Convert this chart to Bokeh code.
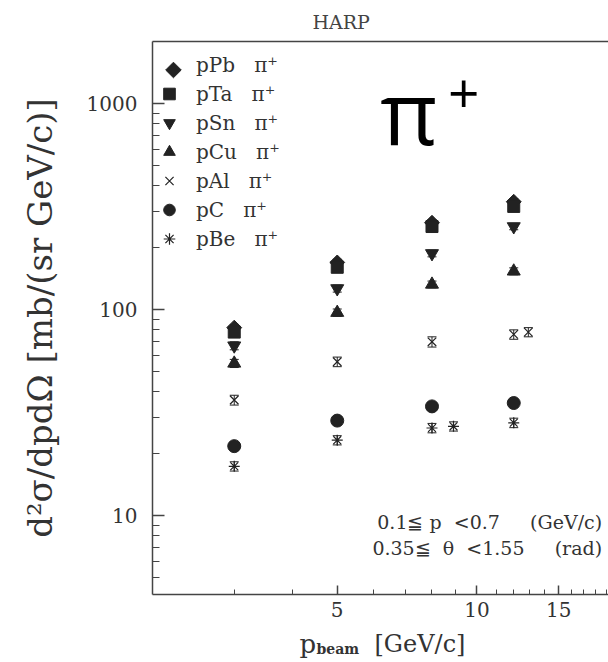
import numpy as np
from bokeh.plotting import figure
from bokeh.layouts import column
from bokeh.core.properties import value
from bokeh.models import (ColumnDataSource, FixedTicker, LogAxis, Legend, LegendItem,
                          Whisker, TeeHead, Label, PrintfTickFormatter, Range1d)
from bokeh.embed import file_html
from bokeh.resources import INLINE

# ---------------- data ----------------
p_beam = [3, 5, 8, 12]
pPb = [82, 170, 265, 335]
pPb_err = [3, 6, 9, 12]
pTa = [78, 161, 254, 318]
pTa_err = [3, 6, 9, 11]
pSn = [67, 127, 188, 254]
pSn_err = [3, 5, 7, 9]
pCu = [55, 97, 133, 154]
pCu_err = [2.5, 4, 5, 6]
pAl_x = [3, 5, 8, 12, 12.9]
pAl = [36.5, 56, 70, 76, 78]
pAl_err = [2, 3, 4, 4, 4]
pC = [21.8, 29, 34, 35.3]
pC_err = [1, 1.3, 1.5, 1.5]
pBe_x = [3, 5, 8, 8.9, 12]
pBe = [17.4, 23.3, 26.7, 27.2, 28.3]
pBe_err = [0.9, 1.2, 1.4, 1.4, 1.5]

x_major = [5, 10, 15]
x_minor = [3, 4, 6, 7, 8, 9, 11, 12, 13, 14, 16, 17, 18, 19]
y_major = [10, 100, 1000]
y_minor = [5, 6, 7, 8, 9, 20, 30, 40, 50, 60, 70, 80, 90,
           200, 300, 400, 500, 600, 700, 800, 900]

INK = "#222222"
TXT = "#333333"
AX = "#444444"
NB = "\u00a0"

p = figure(width=608, height=626, x_axis_type="log", y_axis_type="log",
           x_range=Range1d(2.0, 19.2), y_range=Range1d(4.15, 2010),
           output_backend="svg", toolbar_location=None,
           min_border_left=152, min_border_right=0, min_border_top=37,
           min_border_bottom=32)
p.xgrid.visible = False
p.ygrid.visible = False
p.outline_line_color = None

# title
p.title.text = "HARP"
p.title.text_font = "DejaVu Serif"
p.title.text_font_size = "19px"
p.title.text_font_style = "normal"
p.title.text_color = "#444444"
p.title.align = "left"
p.title.offset = 160
p.title.standoff = 17

# x axis
xa = p.xaxis[0]
xa.ticker = FixedTicker(ticks=x_major, minor_ticks=x_minor)
xa.formatter = PrintfTickFormatter(format="%d")
xa.major_tick_in = 9
xa.major_tick_out = 0
xa.minor_tick_in = 5
xa.minor_tick_out = 0
xa.major_label_standoff = 7
xa.major_label_text_font = "DejaVu Serif"
xa.major_label_text_font_size = "20px"
xa.major_label_text_color = TXT
xa.axis_line_color = AX
xa.axis_line_width = 1.5
xa.major_tick_line_color = AX
xa.minor_tick_line_color = AX
xa.major_tick_line_width = 1.5

# y axis
ya = p.yaxis[0]
ya.ticker = FixedTicker(ticks=y_major, minor_ticks=y_minor)
ya.formatter = PrintfTickFormatter(format="%d")
ya.major_tick_in = 12
ya.major_tick_out = 0
ya.minor_tick_in = 7
ya.minor_tick_out = 0
ya.major_label_standoff = 15
ya.major_label_text_font = "DejaVu Serif"
ya.major_label_text_font_size = "20px"
ya.major_label_text_color = TXT
ya.axis_line_color = AX
ya.axis_line_width = 1.5
ya.major_tick_line_color = AX
ya.minor_tick_line_color = AX
ya.major_tick_line_width = 1.5
ya.axis_label = "d²σ/dpdΩ [mb/(sr GeV/c)]"
ya.axis_label_text_font = "DejaVu Serif"
ya.axis_label_text_font_size = "34px"
ya.axis_label_text_font_style = "normal"
ya.axis_label_text_color = TXT
ya.axis_label_standoff = 24

# top border as an axis without ticks
top = LogAxis(ticker=FixedTicker(ticks=[]), axis_line_color=AX, axis_line_width=1.5,
              major_tick_line_color=None, minor_tick_line_color=None,
              major_label_text_font_size="0px")
p.add_layout(top, "above")


def add_series(xs, ys, errs, marker, size, filled=True, angle=0.0):
    src = ColumnDataSource(dict(x=xs, y=ys,
                                lo=[v - e for v, e in zip(ys, errs)],
                                hi=[v + e for v, e in zip(ys, errs)]))
    w = Whisker(base="x", lower="lo", upper="hi", source=src, dimension="height",
                line_color=INK, line_width=1,
                lower_head=TeeHead(size=9, line_color=INK, line_width=1),
                upper_head=TeeHead(size=9, line_color=INK, line_width=1))
    p.add_layout(w)
    if filled:
        r = p.scatter("x", "y", source=src, marker=marker, size=size, angle=angle,
                      fill_color=INK, line_color=INK, line_width=1)
    else:
        r = p.scatter("x", "y", source=src, marker=marker, size=size, angle=angle,
                      fill_color=None, line_color=INK, line_width=1.2)
    return r


r_pb = add_series(p_beam, pPb, pPb_err, "square", 10.5, angle=np.pi / 4)
r_ta = add_series(p_beam, pTa, pTa_err, "square", 12)
r_sn = add_series(p_beam, pSn, pSn_err, "inverted_triangle", 13)
r_cu = add_series(p_beam, pCu, pCu_err, "triangle", 13)
r_al = add_series(pAl_x, pAl, pAl_err, "x", 12, filled=False)
r_c = add_series(p_beam, pC, pC_err, "circle", 13)
r_be = add_series(pBe_x, pBe, pBe_err, "asterisk", 11, filled=False)

# legend (diamond swatch for pPb drawn separately, legends ignore marker angle)
r_pb_leg = p.scatter(x=[], y=[], marker="square", fill_alpha=0, line_alpha=0)
GAP = NB * 3
legend = Legend(items=[
    LegendItem(label="pPb" + GAP + "π⁺", renderers=[r_pb_leg]),
    LegendItem(label="pTa" + GAP + "π⁺", renderers=[r_ta]),
    LegendItem(label="pSn" + GAP + "π⁺", renderers=[r_sn]),
    LegendItem(label="pCu" + GAP + "π⁺", renderers=[r_cu]),
    LegendItem(label="pAl" + GAP + "π⁺", renderers=[r_al]),
    LegendItem(label="pC" + GAP + "π⁺", renderers=[r_c]),
    LegendItem(label="pBe" + GAP + "π⁺", renderers=[r_be]),
], location=(0, 341), glyph_width=34, glyph_height=29, spacing=0, padding=4,
    margin=0, label_standoff=10, label_height=29,
    border_line_color=None, background_fill_alpha=0,
    label_text_font="DejaVu Serif", label_text_font_size="20px",
    label_text_color=TXT, label_text_baseline="middle")
p.add_layout(legend)
# legend swatch position: glyph centre at frame-left + 21 px, first row 28.7 px below top
leg_x = 2.0 * 10 ** (21 / 465.1)
leg_y = 2010 * 10 ** (-28.7 / 207.5)
p.scatter(x=[leg_x], y=[leg_y], marker="square", angle=np.pi / 4, size=11,
          fill_color=INK, line_color=INK)

# big pi+ label
p.add_layout(Label(x=6.19, y=925, text="π", text_font="Open Sans",
                   text_font_size="88px", text_color="black",
                   text_baseline="alphabetic"))
p.add_layout(Label(x=8.66, y=1120, text="+", text_font="Open Sans",
                   text_font_size="55px", text_color="black",
                   text_baseline="alphabetic"))

# cut annotations
p.add_layout(Label(x=18.6, y=9.35,
                   text="0.1≦" + NB + "p" + NB * 2 + "<0.7" + NB * 5 + "(GeV/c)",
                   text_align="right", text_baseline="middle", text_font="DejaVu Serif",
                   text_font_size="19px", text_color=TXT))
p.add_layout(Label(x=18.6, y=7.01,
                   text="0.35≦" + NB * 2 + "θ" + NB * 2 + "<1.55" + NB * 5 + "(rad)",
                   text_align="right", text_baseline="middle", text_font="DejaVu Serif",
                   text_font_size="19px", text_color=TXT))

# x axis title strip (subscripted p_beam); its frame lines up with the main frame
# (pixels 152..608), so the range is expressed in page pixels
q = figure(width=608, height=36, x_range=Range1d(152, 608), y_range=Range1d(36, 0),
           output_backend="svg", toolbar_location=None,
           x_axis_location=None, y_axis_location=None,
           min_border=0, min_border_left=152, min_border_right=0,
           min_border_top=0, min_border_bottom=0)
q.xgrid.visible = False
q.ygrid.visible = False
q.outline_line_color = None
q.text(x=[299], y=[17], text=["p"], text_font=value("DejaVu Serif"),
       text_font_size="26px", text_color=TXT, text_baseline="alphabetic")
q.text(x=[316], y=[22], text=["beam"], text_font=value("DejaVu Serif"),
       text_font_size="14px", text_font_style="bold", text_color=TXT,
       text_baseline="alphabetic")
q.text(x=[374], y=[17], text=["[GeV/c]"], text_font=value("DejaVu Serif"),
       text_font_size="24px", text_color=TXT, text_baseline="alphabetic")

layout = column(p, q, spacing=0)
open("out.html", "w").write(file_html(layout, INLINE))
